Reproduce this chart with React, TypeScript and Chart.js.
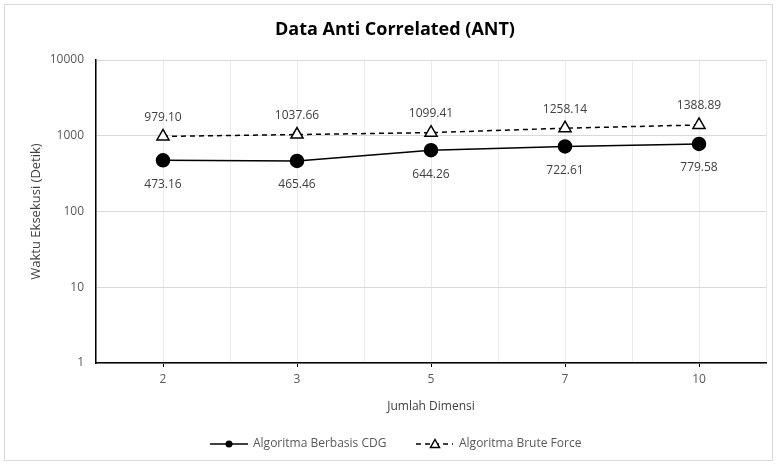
import React, { useEffect, useRef } from "react";
import { Chart, registerables } from "chart.js";

Chart.register(...registerables);

const categories = ["2", "3", "5", "7", "10"];
const cdgValues = [473.16, 465.46, 644.26, 722.61, 779.58];
const bruteValues = [979.1, 1037.66, 1099.41, 1258.14, 1388.89];
const yTicks = [1, 10, 100, 1000, 10000];
const seriesNames = ["Algoritma Berbasis CDG", "Algoritma Brute Force"];
const titleText = "Data Anti Correlated (ANT)";
const xTitle = "Jumlah Dimensi";
const yTitle = "Waktu Eksekusi (Detik)";

const FONT = "'Open Sans', 'Noto Sans', sans-serif";
const GREY = "#595959";

const framePlugin = {
  id: "frame",
  beforeDraw(chart: any) {
    const { ctx } = chart;
    ctx.save();
    ctx.fillStyle = "#fff";
    ctx.fillRect(0, 0, chart.width, chart.height);
    ctx.strokeStyle = "#d9d9d9";
    ctx.lineWidth = 1;
    ctx.strokeRect(4.5, 4.5, 768, 456);
    ctx.restore();
  },
  afterDraw(chart: any) {
    const { ctx } = chart;
    ctx.save();
    // title
    ctx.fillStyle = "#000";
    ctx.font = `bold 18px ${FONT}`;
    ctx.textAlign = "center";
    ctx.textBaseline = "middle";
    ctx.fillText(titleText, 395, 30);

    // data labels
    ctx.font = `12px ${FONT}`;
    ctx.fillStyle = "#404040";
    const m0 = chart.getDatasetMeta(0);
    const m1 = chart.getDatasetMeta(1);
    m0.data.forEach((p: any, i: number) => {
      ctx.fillText(cdgValues[i].toFixed(2), p.x, p.y + 24);
    });
    m1.data.forEach((p: any, i: number) => {
      ctx.fillText(bruteValues[i].toFixed(2), p.x, p.y - 19);
    });

    // legend
    const ly = 444;
    ctx.strokeStyle = "#000";
    ctx.lineWidth = 1.5;
    ctx.beginPath();
    ctx.moveTo(210, ly);
    ctx.lineTo(248, ly);
    ctx.stroke();
    ctx.fillStyle = "#000";
    ctx.beginPath();
    ctx.arc(229, ly, 3.5, 0, Math.PI * 2);
    ctx.fill();
    ctx.setLineDash([5, 4]);
    ctx.beginPath();
    ctx.moveTo(416, ly);
    ctx.lineTo(453, ly);
    ctx.stroke();
    ctx.setLineDash([]);
    ctx.fillStyle = "#fff";
    ctx.beginPath();
    ctx.moveTo(435, ly - 4.5);
    ctx.lineTo(439.5, ly + 3.5);
    ctx.lineTo(430.5, ly + 3.5);
    ctx.closePath();
    ctx.fill();
    ctx.stroke();
    ctx.fillStyle = GREY;
    ctx.font = `12px ${FONT}`;
    ctx.textAlign = "left";
    ctx.fillText(seriesNames[0], 253, ly);
    ctx.fillText(seriesNames[1], 459, ly);
    ctx.restore();
  },
};

export default function App() {
  const ref = useRef<HTMLCanvasElement>(null);
  useEffect(() => {
    document.body.style.margin = "0";
    const chart = new Chart(ref.current!, {
      type: "line",
      data: {
        datasets: [
          {
            label: seriesNames[0],
            data: cdgValues.map((v, i) => ({ x: i + 1, y: v })),
            borderColor: "#000",
            backgroundColor: "#000",
            borderWidth: 1.5,
            pointStyle: "circle",
            pointRadius: 6.5,
            pointBackgroundColor: "#000",
            pointBorderColor: "#000",
          },
          {
            label: seriesNames[1],
            data: bruteValues.map((v, i) => ({ x: i + 1, y: v })),
            borderColor: "#000",
            backgroundColor: "#fff",
            borderWidth: 1.5,
            borderDash: [5, 4],
            pointStyle: "triangle",
            pointRadius: 7,
            pointBackgroundColor: "#fff",
            pointBorderColor: "#000",
            pointBorderWidth: 1.5,
          },
        ],
      },
      plugins: [framePlugin],
      options: {
        animation: false,
        responsive: false,
        layout: { padding: { top: 60, left: 10, right: 13, bottom: 40 } },
        plugins: {
          legend: { display: false },
          title: { display: false },
          tooltip: { enabled: false },
        },
        scales: {
          x: {
            type: "linear",
            min: 0.5,
            max: 5.5,
            afterBuildTicks: (s: any) => {
              const t = [];
              for (let v = 0.5; v <= 5.51; v += 0.5) t.push({ value: v });
              s.ticks = t;
            },
            afterFit: (s: any) => {
              s.height = 63;
            },
            ticks: {
              autoSkip: false,
              maxRotation: 0,
              color: GREY,
              font: { family: FONT, size: 12 },
              padding: 5,
              callback: (v: any) =>
                Number.isInteger(v) ? categories[v - 1] : "",
            },
            grid: {
              color: "#ebebeb",
              tickLength: 4,
              tickColor: (c: any) =>
                c.tick && Number.isInteger(c.tick.value) ? "#000" : "rgba(0,0,0,0)",
            },
            border: { color: "#000", width: 1.5 },
            title: {
              display: true,
              text: xTitle,
              color: "#404040",
              font: { family: FONT, size: 12 },
              padding: { top: 0, bottom: 12 },
            },
          },
          y: {
            type: "logarithmic",
            min: 1,
            max: 10000,
            afterBuildTicks: (s: any) => {
              s.ticks = yTicks.map((v) => ({ value: v }));
            },
            afterFit: (s: any) => {
              s.width = 86;
            },
            ticks: {
              color: GREY,
              font: { family: FONT, size: 12 },
              padding: 12,
              callback: (v: any) => String(v),
            },
            grid: { color: "#d9d9d9", drawTicks: false },
            border: { color: "#000", width: 1.5 },
            title: {
              display: true,
              text: yTitle,
              color: "#404040",
              font: { family: FONT, size: 13 },
              padding: { top: 18, bottom: 0 },
            },
          },
        },
      },
    } as any);
    return () => chart.destroy();
  }, []);
  return <canvas ref={ref} width={779} height={466} style={{ display: "block" }} />;
}
